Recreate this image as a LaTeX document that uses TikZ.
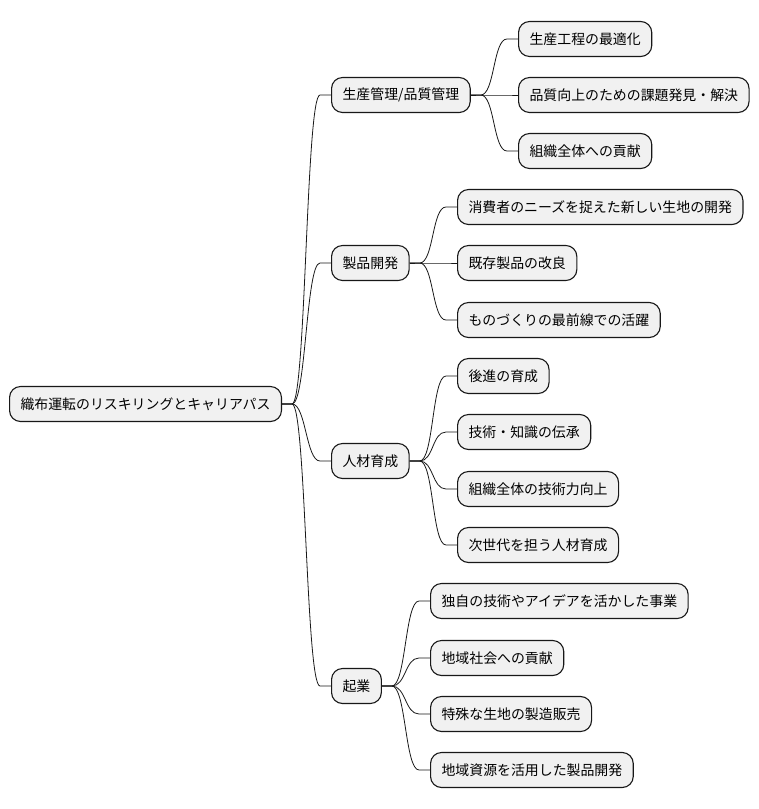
\documentclass[tikz,border=0pt]{standalone}
\usepackage{fontspec}
\setmainfont{Noto Sans CJK JP}
\usetikzlibrary{positioning, calc}

\definecolor{boxfill}{HTML}{F1F1F1}
\definecolor{boxline}{HTML}{181818}

\begin{document}
\begin{tikzpicture}[
    x=1pt, y=-1pt,
    topic/.style={draw=boxline, fill=boxfill, line width=1.1pt, rounded corners=11pt,
        minimum height=35pt, inner xsep=11pt, anchor=west, font=\fontsize{13.9}{16}\selectfont},
    branch/.style={draw=boxline, line width=0.8pt,
        to path={-- ++(10,0) .. controls +(14,0) and +(-14,0) .. ([xshift=-11pt]\tikztotarget) -- (\tikztotarget)}}
]
\useasboundingbox (0,0) rectangle (759,809);

\node[topic] (root) at (9,404) {織布運転のリスキリングとキャリアパス};

\node[topic] (pm) at (331,95) {生産管理/品質管理};
\node[topic] (dev) at (331,263) {製品開発};
\node[topic] (hr) at (331,461) {人材育成};
\node[topic] (biz) at (331,686) {起業};

\node[topic] (pm1) at (518,39) {生産工程の最適化};
\node[topic] (pm2) at (518,95) {品質向上のための課題発見・解決};
\node[topic] (pm3) at (518,151) {組織全体への貢献};

\node[topic] (dev1) at (457,207) {消費者のニーズを捉えた新しい生地の開発};
\node[topic] (dev2) at (457,263) {既存製品の改良};
\node[topic] (dev3) at (457,320) {ものづくりの最前線での活躍};

\node[topic] (hr1) at (457,376) {後進の育成};
\node[topic] (hr2) at (457,432) {技術・知識の伝承};
\node[topic] (hr3) at (457,489) {組織全体の技術力向上};
\node[topic] (hr4) at (457,545) {次世代を担う人材育成};

\node[topic] (biz1) at (430,601) {独自の技術やアイデアを活かした事業};
\node[topic] (biz2) at (430,658) {地域社会への貢献};
\node[topic] (biz3) at (430,714) {特殊な生地の製造販売};
\node[topic] (biz4) at (430,770) {地域資源を活用した製品開発};

\draw[branch] (root.east) to (pm.west);
\draw[branch] (root.east) to (dev.west);
\draw[branch] (root.east) to (hr.west);
\draw[branch] (root.east) to (biz.west);

\draw[branch] (pm.east) to (pm1.west);
\draw[branch] (pm.east) to (pm2.west);
\draw[branch] (pm.east) to (pm3.west);

\draw[branch] (dev.east) to (dev1.west);
\draw[branch] (dev.east) to (dev2.west);
\draw[branch] (dev.east) to (dev3.west);

\draw[branch] (hr.east) to (hr1.west);
\draw[branch] (hr.east) to (hr2.west);
\draw[branch] (hr.east) to (hr3.west);
\draw[branch] (hr.east) to (hr4.west);

\draw[branch] (biz.east) to (biz1.west);
\draw[branch] (biz.east) to (biz2.west);
\draw[branch] (biz.east) to (biz3.west);
\draw[branch] (biz.east) to (biz4.west);
\end{tikzpicture}
\end{document}
